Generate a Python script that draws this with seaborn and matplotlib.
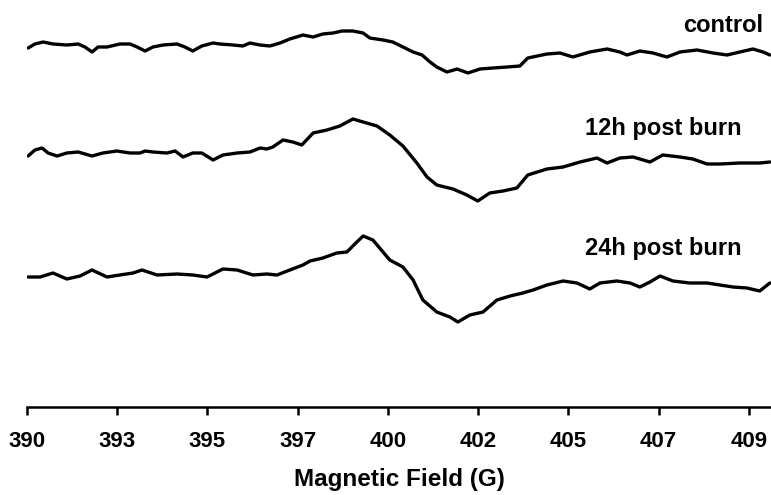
import pandas as pd
import matplotlib
matplotlib.use("Agg")
from matplotlib import pyplot as plt
import seaborn as sns

# * EPR spectra, stacked traces

# Field (G) and signal (a.u., relative to each trace's baseline)
control_field = [390.23, 390.41, 390.63, 390.89, 391.26, 391.56, 391.74, 391.93, 392.09, 392.33,
                 392.67, 392.94, 393.13, 393.34, 393.55, 393.82, 394.19, 394.40, 394.61, 394.85,
                 395.15, 395.33, 395.68, 395.94, 396.13, 396.40, 396.66, 396.93, 397.19, 397.54,
                 397.81, 398.07, 398.34, 398.58, 398.87, 399.14, 399.32, 399.67, 399.93, 400.20,
                 400.47, 400.71, 400.92, 401.10, 401.37, 401.64, 401.93, 402.25, 402.59, 402.97,
                 403.31, 403.52, 404.03, 404.38, 404.72, 405.17, 405.63, 405.97, 406.16, 406.50,
                 406.85, 407.22, 407.57, 408.02, 408.45, 408.82, 409.16, 409.51, 409.78, 409.96]
control_signal = [-0.3, 0.1, 0.3, 0.1, 0.0, 0.1, -0.2, -0.7, -0.2, -0.2,
                  0.1, 0.1, -0.2, -0.6, -0.2, 0.0, 0.1, -0.2, -0.6, -0.1,
                  0.2, 0.1, 0.0, -0.1, 0.2, 0.0, -0.1, 0.2, 0.6, 1.0,
                  0.8, 1.1, 1.2, 1.4, 1.4, 1.2, 0.7, 0.5, 0.3, -0.2,
                  -0.7, -1.0, -1.7, -2.2, -2.7, -2.4, -2.8, -2.4, -2.3, -2.2,
                  -2.1, -1.3, -0.9, -0.8, -1.2, -0.7, -0.4, -0.7, -1.0, -0.6,
                  -0.8, -1.2, -0.7, -0.5, -0.8, -1.0, -0.7, -0.4, -0.7, -1.0]

h12_field = [390.23, 390.41, 390.60, 390.76, 391.00, 391.26, 391.56, 391.93, 392.22, 392.59,
             392.94, 393.21, 393.34, 393.55, 393.92, 394.14, 394.35, 394.61, 394.85, 395.15,
             395.41, 395.79, 396.13, 396.40, 396.58, 396.74, 397.01, 397.27, 397.51, 397.81,
             398.18, 398.52, 398.87, 399.14, 399.51, 399.85, 400.20, 400.57, 400.84, 401.10,
             401.53, 401.90, 402.19, 402.51, 402.86, 403.23, 403.52, 404.03, 404.46, 404.91,
             405.36, 405.63, 405.97, 406.32, 406.77, 407.11, 407.57, 407.91, 408.29, 408.63,
             409.16, 409.69, 409.96]
h12_signal = [-0.3, 0.3, 0.5, 0.0, -0.3, 0.0, 0.1, -0.3, 0.0, 0.2,
              0.0, 0.0, 0.2, 0.1, 0.0, 0.2, -0.4, 0.0, 0.0, -0.7,
              -0.2, 0.0, 0.1, 0.5, 0.4, 0.6, 1.3, 1.1, 0.8, 2.0,
              2.3, 2.7, 3.4, 3.1, 2.7, 1.8, 0.7, -1.0, -2.4, -3.2,
              -3.6, -4.2, -4.8, -4.0, -3.8, -3.5, -2.2, -1.6, -1.4, -0.9,
              -0.5, -1.0, -0.5, -0.4, -0.9, -0.2, -0.4, -0.6, -1.1, -1.1,
              -1.0, -1.0, -0.9]

h24_field = [390.23, 390.55, 390.89, 391.26, 391.61, 391.93, 392.33, 392.67, 393.02, 393.26,
             393.66, 394.19, 394.61, 394.99, 395.41, 395.79, 396.21, 396.58, 396.85, 397.19,
             397.54, 397.73, 398.07, 398.44, 398.71, 398.92, 399.14, 399.40, 399.67, 399.85,
             400.20, 400.47, 400.73, 401.10, 401.45, 401.66, 401.98, 402.33, 402.70, 403.05,
             403.39, 403.66, 404.03, 404.46, 404.83, 405.17, 405.44, 405.89, 406.24, 406.50,
             406.77, 407.04, 407.38, 407.83, 408.29, 408.63, 408.98, 409.35, 409.69, 409.96]
h24_signal = [-0.2, -0.2, 0.2, -0.4, -0.1, 0.5, -0.2, 0.0, 0.2, 0.5,
              0.0, 0.1, 0.0, -0.2, 0.6, 0.5, 0.0, 0.1, 0.0, 0.5,
              1.0, 1.4, 1.7, 2.2, 2.3, 3.1, 3.9, 3.5, 2.3, 1.5,
              0.8, -0.5, -2.5, -3.7, -4.2, -4.7, -4.0, -3.7, -2.5, -2.1,
              -1.8, -1.5, -1.0, -0.6, -0.8, -1.4, -0.8, -0.6, -0.8, -1.2,
              -0.7, -0.1, -0.6, -0.8, -0.8, -1.0, -1.2, -1.3, -1.6, -0.8]

samples = ["control", "12h post burn", "24h post burn"]
offsets = [36.2, 25.4, 13.2]

tick_pos = [390.2, 392.6, 395.0, 397.4, 399.8, 402.2, 404.6, 407.0, 409.4]
tick_labels = ["390", "393", "395", "397", "400", "402", "405", "407", "409"]

frames = []
for name, fld, sig, off in zip(samples,
                               [control_field, h12_field, h24_field],
                               [control_signal, h12_signal, h24_signal],
                               offsets):
    frames.append(pd.DataFrame({"field": fld,
                                "intensity": [s + off for s in sig],
                                "sample": name}))
spectra = pd.concat(frames, ignore_index=True)

sns.set_style("white")
plt.rcParams["font.family"] = ["Liberation Sans", "DejaVu Sans"]
plt.rcParams["font.weight"] = "bold"
plt.rcParams["text.color"] = "black"
plt.rcParams["axes.labelcolor"] = "black"
plt.rcParams["xtick.color"] = "black"

fig = plt.figure(figsize=(7.71, 4.95), dpi=100)
ax = fig.add_axes([27 / 771, 1 - 407 / 495, 1 - 27 / 771, 407 / 495])

sns.lineplot(data=spectra, x="field", y="intensity", hue="sample",
             palette=["black"] * 3, estimator=None, sort=False,
             linewidth=2.4, legend=False, ax=ax)

# trace labels
label_x = [409.77, 409.22, 409.22]
label_y = [38.2, 27.9, 15.9]
for name, lx, ly in zip(samples, label_x, label_y):
    ax.text(lx, ly, name, ha="right", va="center", fontsize=17, fontweight="bold")

ax.set_xlim(390.2, 409.99)
ax.set_ylim(0, 40.7)
ax.set_xticks(tick_pos)
ax.set_xticklabels(tick_labels, fontsize=16, fontweight="bold")
ax.set_yticks([])
ax.set_xlabel("Magnetic Field (G)", fontsize=17.5, fontweight="bold", labelpad=12)
ax.set_ylabel("")
ax.tick_params(axis="x", direction="out", length=6, width=1.8, pad=11, bottom=True)
sns.despine(ax=ax, left=True, top=True, right=True)
ax.spines["bottom"].set_linewidth(1.8)
ax.spines["bottom"].set_color("black")

fig.savefig("out.png", dpi=100)
